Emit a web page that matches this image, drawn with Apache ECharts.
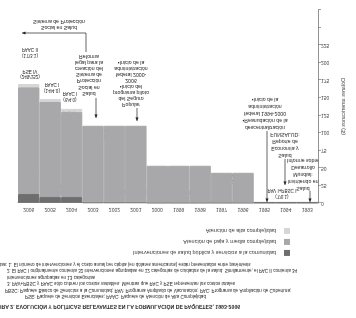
<!DOCTYPE html>
<html>
<head>
<meta charset="utf-8">
<script src="https://cdn.jsdelivr.net/npm/echarts@6/dist/echarts.min.js"></script>
<style>
html, body { margin: 0; padding: 0; background: #fff; }
/* the printed figure is reproduced upside down, so the whole chart is flipped */
#main { width: 356px; height: 318px; transform: scaleY(-1); }
</style>
</head>
<body>
<div id="main"></div>
<script>
var years = ['1993', '1994', '1995', '1996', '1997', '1998', '1999', '2000', '2001', '2002', '2003', '2004', '2005', '2006'];
// dólares per cápita
var publicHealth = [0.5, 0.5, 0.5, 0.5, 0.5, 0.5, 0.5, 0.5, 1, 1, 1, 8.5, 8.5, 13];
var lowMidCare = [0, 0, 0, 42.5, 42.5, 52.5, 52.5, 52.5, 109, 109, 109, 121.5, 135.5, 152];
var highCare = [0, 0, 0, 0, 0, 0, 0, 0, 0, 0, 0, 4, 4, 4.5];
var yTickLabels = ['0', '25', '50', '75', '100', '125', '150', '175', '200', '225'];
var names = [
    'Intervenciones de salud pública y servicios a la comunidad',
    'Atención de baja y media complejidad',
    'Atención de alta complejidad'
];
var colors = ['#6e6e6e', '#a8a8aa', '#d6d6d6'];

var H = 318;
var font = '"Liberation Sans", Arial, sans-serif';
function ry(y) { return H - y; }   // page y -> flipped canvas y

var graphics = [];
function lines(x, y, arr, size, gap, align, weight) {
    arr.forEach(function (t, i) {
        graphics.push({
            type: 'text', x: x, y: ry(y + i * gap), silent: true,
            style: {
                text: t, fontSize: size, fontFamily: font, fontWeight: weight || 'normal',
                fill: '#222', align: align || 'center', verticalAlign: 'middle'
            }
        });
    });
}
function seg(x1, y1, x2, y2) {
    graphics.push({
        type: 'line', silent: true,
        shape: { x1: x1, y1: ry(y1), x2: x2, y2: ry(y2) },
        style: { stroke: '#222', lineWidth: 0.7 }
    });
}
function arrow(x1, y1, x2, y2) {
    seg(x1, y1, x2, y2);
    var dx = x2 - x1, dy = y2 - y1, l = Math.sqrt(dx * dx + dy * dy);
    dx /= l; dy /= l;
    var bx = x2 - dx * 3.5, by = y2 - dy * 3.5;
    graphics.push({
        type: 'polygon', silent: true,
        shape: { points: [[x2, ry(y2)], [bx - dy * 1.6, ry(by + dx * 1.6)], [bx + dy * 1.6, ry(by - dx * 1.6)]] },
        style: { fill: '#222' }
    });
}

// policy annotations
lines(59, 21, ['Sistema de Protección', 'Social en Salud'], 5.2, 6.5);
arrow(86, 33, 22, 33);
seg(86, 33, 86, 52);
lines(89, 56, ['Reforma', 'legal para la', 'creación del', 'Sistema de', 'Protección', 'Social en', 'Salud'], 5.2, 6.2);
arrow(96, 98, 96, 118);
lines(131, 62, ['•Inicio de la', 'administración', 'federal 2000-', '2006', '•Inicio del', 'programa piloto', 'del Seguro', 'Popular'], 5.2, 6);
arrow(137, 108, 137, 121);
lines(265, 99, ['•Inicio de la', 'administración', 'federal 1994-2000', '•Reanudación de la', 'descentralización'], 5.2, 7);
arrow(267, 131, 267, 202);
lines(285, 134, ['FUNSALUD:', 'Reporte de', 'Economía y', 'Salud'], 5.2, 7);
arrow(285, 159, 285, 185);
lines(303, 160, ['Informe sobre', 'Desarrollo', 'Mundial:', 'Invirtiendo en', 'Salud'], 5.2, 7);
arrow(310, 191, 310, 202);

// package labels
lines(30, 49.5, ['PAAC II', '(17/3.1)'], 4.6, 5.5);
lines(30, 71, ['PSE IV', '(249/152)'], 4.6, 5.5);
lines(52, 84.5, ['PAAC I', '(14/4.0)'], 4.6, 5.5);
lines(70, 93.5, ['PAAC I', '(6/4.0)'], 4.6, 5.5);
lines(51, 103.5, ['PSE III', '(154/136)'], 4.6, 5.5);
lines(69, 111.5, ['PSE II', '(91/122)'], 4.6, 5.5);
lines(110, 130.5, ['PSE I', '(78/110)'], 4.6, 5.5);
lines(30, 161, ['PAV V+', 'PBSC V', '(17/13.2)'], 4.6, 5.5);
lines(61, 185.5, ['PAV IV+PBSC IV', '(13/8.4)'], 4.6, 5.5);
lines(135, 191.5, ['PAV II+PBSC II', '(11/0.4)'], 4.6, 5.5);
lines(171, 171.5, ['PAC II', '(14/53)'], 4.6, 5.5);
lines(199, 172.5, ['PAC II', '(14/53)'], 4.6, 5.5);
lines(235, 175.5, ['PAC I', '(12/43)'], 4.6, 5.5);
lines(193, 192.5, ['PAV I+PBSC I', '(11/0.1)'], 4.6, 5.5);
lines(282, 190.5, ['PAV I+PBSC I', '(7/0.1)'], 4.6, 5.5);

// notes and caption
lines(-6, 264, ['Notas: 1. El número de intervenciones y el costo anual per cápita (en dólares americanos) están presentados entre paréntesis'], 4.6, 0, 'left');
lines(7, 270.5, ['2. El PAC I originalmente contenía 32 intervenciones agrupadas en 12 categorías de cuidados de la salud. Similarmente, el PAC II contenía 34'], 4.6, 0, 'left');
lines(7, 277, ['intervenciones agrupadas en 13 categorías'], 4.6, 0, 'left');
lines(7, 283.5, ['3. PAV+PBSC y PAAC sólo cubren los costos variables. Mientras que PAC y PSE representan los costos totales'], 4.6, 0, 'left');
lines(5, 290, ['PBSC: Paquete Básico de Servicios a la Comunidad; PAV: Programa Ampliado de Vacunación; PAC: Programa de Ampliación de Cobertura;'], 4.6, 0, 'left');
lines(25, 296.5, ['PSE: Paquete de Servicios Esenciales; PAAC: Paquete de Atención de Alta Complejidad'], 4.6, 0, 'left');
lines(-11, 306, ['FIGURA 2. EVOLUCIÓN Y POLÍTICAS RELEVANTES EN LA FORMULACIÓN DE PAQUETES, 1993-2006'], 5.2, 0, 'left', 'bold');

var myChart = echarts.init(document.getElementById('main'));
var series = [publicHealth, lowMidCare, highCare].map(function (d, i) {
    return {
        name: names[i], type: 'bar', stack: 'total',
        // empty years get no rectangle so the seam border is not drawn there
        data: d.map(function (v) { return v > 0 ? v : '-'; }),
        barCategoryGap: '0%',
        itemStyle: { color: colors[i], borderColor: colors[i], borderWidth: 1 },
        silent: true
    };
});
var option = {
    animation: false,
    textStyle: { fontFamily: font },
    grid: { left: 18, right: 38, top: 115, bottom: 10, containLabel: false, outerBoundsMode: 'none' },
    legend: {
        orient: 'vertical', right: 66, top: 62, padding: 0, align: 'right',
        itemWidth: 6, itemHeight: 6, itemGap: 5, icon: 'rect',
        data: names, selectedMode: false,
        itemStyle: { borderWidth: 0 },
        textStyle: { fontSize: 5.5, color: '#333', lineHeight: 6, padding: [0, 3, 0, 0] }
    },
    xAxis: {
        type: 'category', data: years, position: 'top', inverse: true,
        axisLine: { lineStyle: { color: '#777', width: 0.8 } },
        axisTick: { length: 3, lineStyle: { color: '#777', width: 0.7 } },
        axisLabel: { fontSize: 5, color: '#444', margin: 4, interval: 0 }
    },
    yAxis: {
        type: 'value', position: 'right', inverse: true, min: 0, max: 275, interval: 25,
        name: 'Dólares americanos ($)', nameLocation: 'middle', nameGap: 21,
        nameTextStyle: { fontSize: 5.5, color: '#444' },
        axisLine: { show: true, lineStyle: { color: '#777', width: 0.8 } },
        axisTick: { show: true, length: 3, lineStyle: { color: '#777', width: 0.7 } },
        splitLine: { show: false },
        axisLabel: {
            fontSize: 5, color: '#444', margin: 3,
            formatter: function (v) { return yTickLabels.indexOf(String(v)) >= 0 ? String(v) : ''; }
        }
    },
    graphic: graphics,
    series: series
};
myChart.setOption(option);
</script>
</body>
</html>
